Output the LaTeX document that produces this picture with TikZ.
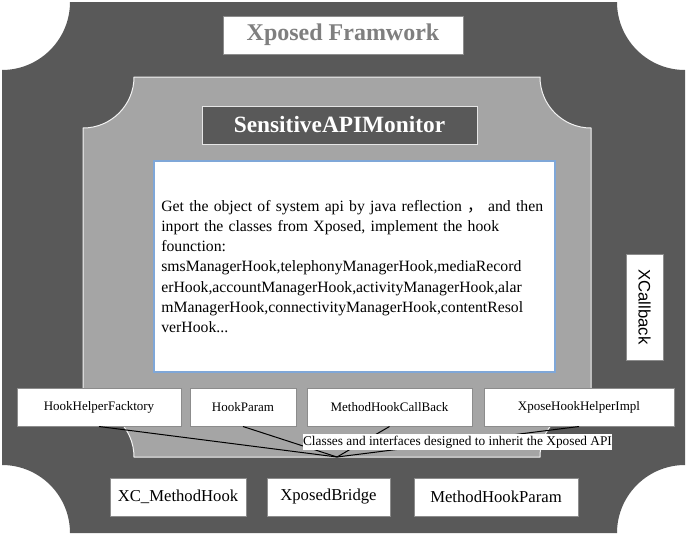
\documentclass[tikz,border=0pt]{standalone}
\usepackage{fontspec}
\setmainfont{Liberation Serif}
\newfontfamily\armfont{Liberation Sans}
\newfontfamily\cjk{Noto Sans CJK SC}
\definecolor{plate}{HTML}{595959}
\definecolor{inner}{HTML}{A5A5A5}
\definecolor{edge}{HTML}{8C8C8C}
\definecolor{skyline}{HTML}{7FA7D8}
\definecolor{titlegray}{HTML}{7F7F7F}

\begin{document}
\begin{tikzpicture}[x=0.75pt,y=-0.75pt,
	classbox/.style={draw=edge,fill=white,line width=0.75pt,minimum height=28.5pt,inner sep=0pt,font=\fontsize{9.75}{11}\selectfont},
	apibox/.style={classbox,font=\fontsize{12.5}{14}\selectfont}]
	\useasboundingbox (0,0) rectangle (686,536);
	% outer plate and inner plate with cut corners
	\fill[plate] (70,2) -- (617,2) arc[start angle=180,end angle=90,radius=68] -- (685,465) arc[start angle=270,end angle=180,radius=68]
		-- (70,533) arc[start angle=0,end angle=-90,radius=68] -- (2,70) arc[start angle=90,end angle=0,radius=68] -- cycle;
	\filldraw[fill=inner,draw=white!85!inner,line width=0.75pt] (134,77) -- (540,77) arc[start angle=180,end angle=90,radius=51] -- (591,406) arc[start angle=270,end angle=180,radius=51]
		-- (134,457) arc[start angle=0,end angle=-90,radius=51] -- (83,128) arc[start angle=90,end angle=0,radius=51] -- cycle;
	\node[draw=edge,fill=white,line width=0.75pt,minimum width=180pt,minimum height=28.5pt,text=titlegray,font=\fontsize{18}{20}\selectfont\bfseries] (framework) at (343,35) {Xposed Framwork};
	\node[draw=white!85!plate,fill=plate,line width=0.75pt,minimum width=206.25pt,minimum height=28.5pt,text=white,font=\fontsize{17.5}{20}\selectfont\bfseries] (monitor) at (339.5,125) {SensitiveAPIMonitor};
	\node[draw=skyline,fill=white,line width=1pt,minimum width=300.75pt,minimum height=158.25pt,text width=289.75pt,inner xsep=5.5pt,align=left,font=\fontsize{11.8}{15.1}\selectfont] (hookdesc) at (354.5,266.5)
		{Get the object of system api by java reflection {\cjk ，} and then\\ inport the classes from Xposed, implement the hook\\ founction:\\ smsManagerHook,telephonyManagerHook,mediaRecord\\ erHook,accountManagerHook,activityManagerHook,alar\\ mManagerHook,connectivityManagerHook,contentResol\\ verHook...};
	\node[draw=edge,fill=white,line width=0.75pt,rotate=-90,minimum width=79.5pt,minimum height=27.75pt,inner sep=0pt,font=\armfont\fontsize{12.5}{14}\selectfont] (xcallback) at (644.5,307) {XCallback};
	% classes inheriting the Xposed API
	\node[classbox,minimum width=123pt] (helperfactory) at (99,407) {HookHelperFacktory};
	\node[classbox,minimum width=79.5pt] (hookparam) at (243,407) {HookParam};
	\node[classbox,minimum width=123.75pt] (callback) at (389.5,407) {MethodHookCallBack};
	\node[classbox,minimum width=142.5pt] (helperimpl) at (579,407) {XposeHookHelperImpl};
	\node[apibox,minimum width=102pt] (methodhook) at (178,497) {XC\_MethodHook};
	\node[apibox,minimum width=92.25pt] (bridge) at (328.5,497) {XposedBridge};
	\node[apibox,minimum width=123pt] (hookparams) at (496,497) {MethodHookParam};
	\coordinate (hub) at (337,457);
	\foreach \c in {helperfactory,hookparam,callback,helperimpl}
		\draw[line width=0.75pt] (\c.south) -- (hub);
	\node[fill=white,minimum width=231.75pt,minimum height=12pt,inner sep=0pt,font=\fontsize{10}{11}\selectfont] (inherit) at (457.5,442) {Classes and interfaces designed to inherit the Xposed API};
\end{tikzpicture}
\end{document}
